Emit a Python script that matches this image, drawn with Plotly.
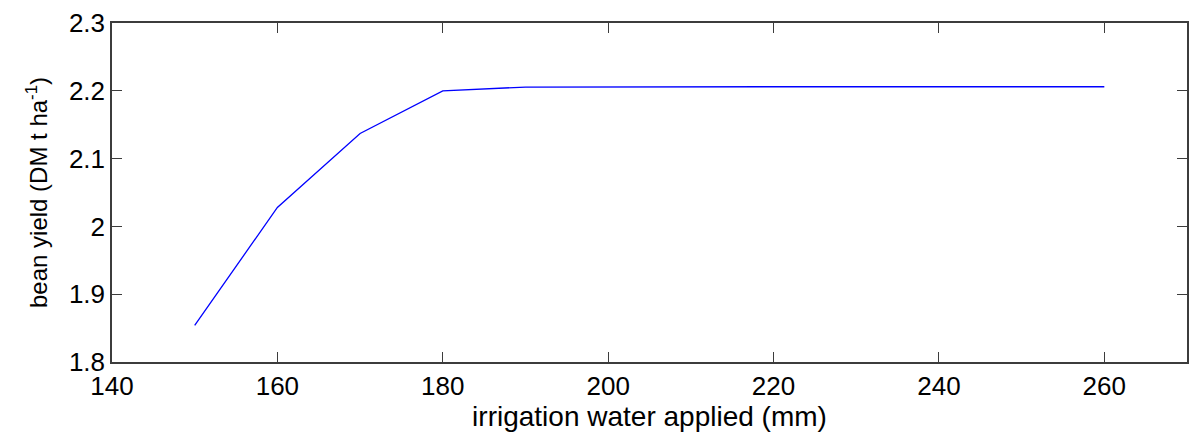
import plotly.graph_objects as go

# Irrigation water applied (mm) and simulated bean yield (DM t/ha)
water_mm = [150, 160, 170, 180, 190, 200, 210, 220, 230, 240, 250, 260]
bean_yield = [1.854, 2.028, 2.137, 2.200, 2.2055, 2.206, 2.206, 2.206, 2.206, 2.206, 2.206, 2.206]

x_ticks = [140, 160, 180, 200, 220, 240, 260]
y_ticks = [1.8, 1.9, 2.0, 2.1, 2.2, 2.3]
y_tick_text = ["1.8", "1.9", "2", "2.1", "2.2", "2.3"]

axis_color = "#3c3c3c"
font_family = "Liberation Sans, Arial, sans-serif"

fig = go.Figure()
fig.add_trace(go.Scatter(
    x=water_mm, y=bean_yield, mode="lines",
    line=dict(color="#0000ff", width=1.3),
    showlegend=False,
))

common_axis = dict(
    showgrid=False, zeroline=False,
    showline=True, linecolor=axis_color, linewidth=1.5,
    mirror="ticks", ticks="inside", ticklen=10, tickwidth=1.2, tickcolor=axis_color,
    tickfont=dict(family=font_family, size=26, color="#000000"),
)

fig.update_layout(
    width=1195, height=435,
    margin=dict(l=112, r=6, t=23, b=73),
    paper_bgcolor="white", plot_bgcolor="white",
    font=dict(family=font_family, color="#000000"),
    xaxis=dict(
        range=[140, 270], tickvals=x_ticks, ticktext=[str(v) for v in x_ticks],
        title=dict(text="irrigation water applied (mm)",
                   font=dict(family=font_family, size=28, color="#000000"), standoff=0),
        **common_axis,
    ),
    yaxis=dict(
        range=[1.8, 2.3], tickvals=y_ticks, ticktext=y_tick_text,
        title=dict(text="bean yield (DM t ha<sup>-1</sup>)",
                   font=dict(family=font_family, size=24, color="#000000"), standoff=14),
        **common_axis,
    ),
)

fig.write_html("out.html")
